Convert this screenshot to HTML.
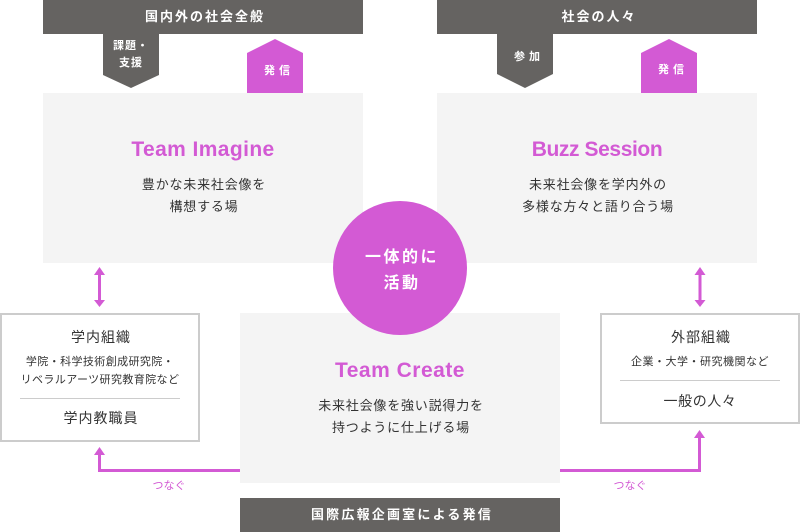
<!DOCTYPE html>
<html><head><meta charset="utf-8"><style>
html,body{margin:0;padding:0;background:#fff;}
body{width:800px;height:532px;position:relative;overflow:hidden;font-family:"Liberation Sans","Noto Sans CJK JP",sans-serif;}
svg{position:absolute;left:0;top:0;}
.t{position:absolute;text-align:center;white-space:nowrap;}
.bar{color:#fff;font-weight:bold;font-size:13px;letter-spacing:2px;}
.tag{color:#fff;font-size:11px;font-weight:bold;}
.title{color:#d35ad4;font-weight:bold;font-size:21px;font-family:"Liberation Sans",sans-serif;}
.desc{color:#333;font-size:13px;letter-spacing:0.8px;line-height:22px;}
.circ{color:#fff;font-weight:bold;font-size:16px;letter-spacing:2.5px;line-height:26px;}
.h{color:#333;font-size:14px;letter-spacing:1px;}
.s{color:#333;font-size:11px;letter-spacing:0.4px;line-height:18px;}
.tn{color:#d35ad4;font-size:11px;}
</style></head><body>
<svg width="800" height="532" viewBox="0 0 800 532">
  <!-- top bars -->
  <rect x="43" y="0" width="320" height="34" fill="#656361"/>
  <rect x="437" y="0" width="320" height="34" fill="#656361"/>
  <!-- gray boxes -->
  <rect x="43" y="93" width="320" height="170" fill="#f4f4f4"/>
  <rect x="437" y="93" width="320" height="170" fill="#f4f4f4"/>
  <rect x="240" y="313" width="320" height="170" fill="#f4f4f4"/>
  <!-- pentagons -->
  <polygon points="103,33 159,33 159,75 131,88 103,75" fill="#656361"/>
  <polygon points="247,93 247,53 275,39 303,53 303,93" fill="#d35ad4"/>
  <polygon points="497,33 553,33 553,74 525,88 497,74" fill="#656361"/>
  <polygon points="641,93 641,53 669,39 697,53 697,93" fill="#d35ad4"/>
  <!-- circle -->
  <circle cx="400" cy="268" r="67" fill="#d35ad4"/>
  <!-- left box -->
  <rect x="1" y="314" width="198" height="127" fill="#fff" stroke="#cccccc" stroke-width="2"/>
  <rect x="20" y="398" width="160" height="1" fill="#cccccc"/>
  <!-- right box -->
  <rect x="601" y="314" width="198" height="109" fill="#fff" stroke="#cccccc" stroke-width="2"/>
  <rect x="620" y="380" width="160" height="1" fill="#cccccc"/>
  <!-- double arrows -->
  <rect x="98" y="274" width="3" height="27" fill="#d35ad4"/>
  <polygon points="99.5,267 105,275 94,275" fill="#d35ad4"/>
  <polygon points="94,300 105,300 99.5,307" fill="#d35ad4"/>
  <rect x="698.5" y="274" width="3" height="27" fill="#d35ad4"/>
  <polygon points="700,267 705.5,275 694.5,275" fill="#d35ad4"/>
  <polygon points="694.5,300 705.5,300 700,307" fill="#d35ad4"/>
  <!-- connectors -->
  <polyline points="240,470.5 99.5,470.5 99.5,454" fill="none" stroke="#d35ad4" stroke-width="3"/>
  <polygon points="99.5,447 105,455 94,455" fill="#d35ad4"/>
  <polyline points="560,470.5 699.5,470.5 699.5,436" fill="none" stroke="#d35ad4" stroke-width="3"/>
  <polygon points="699.5,430 705,438 694,438" fill="#d35ad4"/>
  <!-- bottom bar -->
  <rect x="240" y="498" width="320" height="34" fill="#656361"/>
</svg>

<div class="t bar" style="left:43px;width:320px;top:7px;line-height:20px;padding-left:2px;">国内外の社会全般</div>
<div class="t bar" style="left:437px;width:320px;top:7px;line-height:20px;padding-left:2px;">社会の人々</div>

<div class="t tag" style="left:103px;width:56px;top:38px;line-height:17px;letter-spacing:1px;">課題・<br>支援</div>
<div class="t tag" style="left:247px;width:56px;top:62px;line-height:18px;letter-spacing:4px;padding-left:4px;">発信</div>
<div class="t tag" style="left:497px;width:56px;top:48px;line-height:18px;letter-spacing:4px;padding-left:4px;">参加</div>
<div class="t tag" style="left:641px;width:56px;top:61px;line-height:18px;letter-spacing:4px;padding-left:4px;">発信</div>

<div class="t title" style="left:43px;width:320px;top:136px;line-height:28px;letter-spacing:0.4px;">Team Imagine</div>
<div class="t desc" style="left:43px;width:320px;top:174px;padding-left:1px;">豊かな未来社会像を<br>構想する場</div>

<div class="t title" style="left:437px;width:320px;top:136px;line-height:28px;letter-spacing:-0.4px;">Buzz Session</div>
<div class="t desc" style="left:437px;width:320px;top:174px;padding-left:1px;">未来社会像を学内外の<br>多様な方々と語り合う場</div>

<div class="t circ" style="left:333px;width:134px;top:245px;padding-left:2px;">一体的に<br>活動</div>

<div class="t title" style="left:240px;width:320px;top:357px;line-height:28px;letter-spacing:0.5px;">Team Create</div>
<div class="t desc" style="left:240px;width:320px;top:395px;padding-left:1px;">未来社会像を強い説得力を<br>持つように仕上げる場</div>

<div class="t h" style="left:0;width:200px;top:327px;line-height:20px;padding-left:1px;">学内組織</div>
<div class="t s" style="left:0;width:200px;top:353px;">学院・科学技術創成研究院・<br>リベラルアーツ研究教育院など</div>
<div class="t h" style="left:0;width:200px;top:408px;line-height:20px;padding-left:1px;">学内教職員</div>

<div class="t h" style="left:600px;width:200px;top:327px;line-height:20px;padding-left:1px;">外部組織</div>
<div class="t s" style="left:600px;width:200px;top:353px;letter-spacing:0.5px;">企業・大学・研究機関など</div>
<div class="t h" style="left:600px;width:200px;top:391px;line-height:20px;letter-spacing:0.6px;">一般の人々</div>

<div class="t tn" style="left:129px;width:80px;top:477px;line-height:18px;">つなぐ</div>
<div class="t tn" style="left:590px;width:80px;top:477px;line-height:18px;">つなぐ</div>

<div class="t bar" style="left:240px;width:320px;top:505px;line-height:20px;letter-spacing:2.2px;padding-left:2px;">国際広報企画室による発信</div>
</body></html>
